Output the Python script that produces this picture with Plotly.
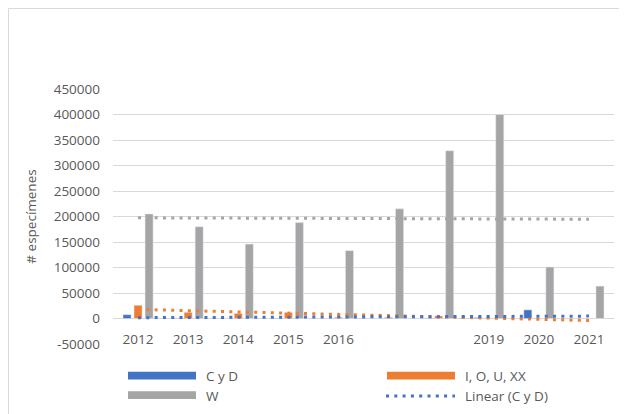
import numpy as np
import plotly.graph_objects as go

# ---- data ----
categories = ["2012", "2013", "2014", "2015", "2016", "2017", "2018", "2019", "2020", "2021"]
tick_labels = ["2012", "2013", "2014", "2015", "2016", "", "", "2019", "2020", "2021"]
c_y_d = [7500, 1000, 500, 1000, 500, 500, 1000, 2000, 17000, 500]
i_o_u_xx = [26000, 12000, 10000, 12000, 2500, 2500, 5000, 1000, -1000, -1000]
w_vals = [205000, 180000, 146000, 188000, 133000, 215000, 329000, 400000, 101000, 63500]
y_tick_vals = [-50000, 0, 50000, 100000, 150000, 200000, 250000, 300000, 350000, 400000, 450000]
y_tick_text = ["-50000", "0", "50000", "100000", "150000", "200000", "250000",
               "300000", "350000", "400000", "450000"]

BLUE = "#4472C4"
ORANGE = "#ED7D31"
GRAY = "#A5A5A5"
TXT = "#595959"
GRID = "#D9D9D9"
FONT = "Open Sans"

OFF = 8  # page body margin
W, H = 627, 414
ML, MR, MT, MB = 113 - OFF, 627 - 614 + OFF, 89 - OFF, 414 - 344 + OFF
PW = W - ML - MR
PH = H - MT - MB

def px2x(px):
    return (px - OFF - ML) / PW

def py2y(py):
    return (H - MB - (py - OFF)) / PH

x_idx = list(range(len(categories)))

def linfit(vals):
    xs = np.arange(len(vals), dtype=float)
    a, b = np.polyfit(xs, np.array(vals, dtype=float), 1)
    return list(a * xs + b)

fig = go.Figure()
fig.add_trace(go.Bar(x=x_idx, y=c_y_d, name="C y D", marker_color=BLUE))
fig.add_trace(go.Bar(x=x_idx, y=i_o_u_xx, name="I, O, U, XX", marker_color=ORANGE))
fig.add_trace(go.Bar(x=x_idx, y=w_vals, name="W", marker_color=GRAY))

DOT = "3px,5.3px"
fig.add_trace(go.Scatter(x=x_idx, y=linfit(w_vals), mode="lines",
                         line=dict(color=GRAY, width=3, dash=DOT), showlegend=False))
fig.add_trace(go.Scatter(x=x_idx, y=linfit(i_o_u_xx), mode="lines",
                         line=dict(color=ORANGE, width=3, dash=DOT), showlegend=False))
fig.add_trace(go.Scatter(x=x_idx, y=linfit(c_y_d), mode="lines", name="Linear (C y D)",
                         line=dict(color=BLUE, width=3, dash=DOT), showlegend=False))

shapes = []
# chart frame = figure border
shapes.append(dict(type="rect", xref="paper", yref="paper",
                   x0=-ML / PW + 0.5 / PW, x1=1 + (MR - 0.5) / PW,
                   y0=-MB / PH + 0.5 / PH, y1=1 + (MT - 0.5) / PH,
                   line=dict(color=GRID, width=1), layer="below"))
# legend swatches
shapes.append(dict(type="rect", xref="paper", yref="paper",
                   x0=px2x(128), x1=px2x(196), y0=py2y(379.5), y1=py2y(371.8),
                   fillcolor=BLUE, line=dict(width=0)))
shapes.append(dict(type="rect", xref="paper", yref="paper",
                   x0=px2x(128), x1=px2x(196), y0=py2y(399), y1=py2y(391.3),
                   fillcolor=GRAY, line=dict(width=0)))
shapes.append(dict(type="rect", xref="paper", yref="paper",
                   x0=px2x(387), x1=px2x(455), y0=py2y(379.5), y1=py2y(371.8),
                   fillcolor=ORANGE, line=dict(width=0)))
shapes.append(dict(type="line", xref="paper", yref="paper",
                   x0=px2x(386), x1=px2x(455), y0=py2y(396), y1=py2y(396),
                   line=dict(color=BLUE, width=3, dash=DOT)))

annotations = []
for txt, px, py in [("C y D", 204, 375.7), ("W", 204, 395.5),
                    ("I, O, U, XX", 462.5, 375.7), ("Linear (C y D)", 462.5, 395.5)]:
    annotations.append(dict(text=txt, x=px2x(px), y=py2y(py), xref="paper", yref="paper",
                            xanchor="left", yanchor="middle", showarrow=False,
                            font=dict(family=FONT, size=13.5, color=TXT)))

fig.update_layout(
    width=W, height=H,
    margin=dict(l=ML, r=MR, t=MT, b=MB, autoexpand=False),
    paper_bgcolor="white", plot_bgcolor="white",
    barmode="group", bargap=0.34, bargroupgap=0.27,
    showlegend=False,
    shapes=shapes, annotations=annotations,
    font=dict(family=FONT, size=13.5, color=TXT),
    xaxis=dict(
        tickmode="array", tickvals=x_idx, ticktext=tick_labels,
        range=[-0.5, len(categories) - 0.5],
        anchor="free", position=0.1,
        showgrid=False, showline=False, zeroline=False,
        ticks="", ticklabelstandoff=11,
        tickfont=dict(family=FONT, size=13.5, color=TXT),
    ),
    yaxis=dict(
        range=[-50000, 450000], tickmode="array",
        tickvals=y_tick_vals, ticktext=y_tick_text,
        showgrid=True, gridcolor=GRID, gridwidth=1.3,
        zeroline=True, zerolinecolor=GRID, zerolinewidth=1.3,
        showline=False, ticks="", ticklabelstandoff=12,
        tickfont=dict(family=FONT, size=13.5, color=TXT),
        title=dict(text="# especímenes", standoff=13,
                   font=dict(family=FONT, size=13.5, color=TXT)),
    ),
)

fig.write_html("out.html")
